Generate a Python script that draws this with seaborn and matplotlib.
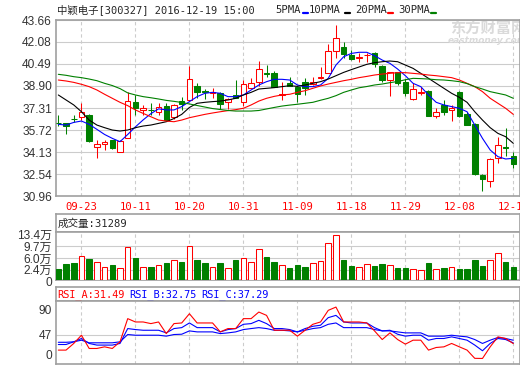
import numpy as np
import pandas as pd
import seaborn as sns
import matplotlib.pyplot as plt
from matplotlib.lines import Line2D

sns.set_style("white")
plt.rcParams['font.family'] = ['DejaVu Sans Mono', 'Noto Sans CJK SC']

# --- datos (60 sesiones, 2016-09-20 .. 2016-12-19) ---
open_ = [36.25, 36.21, 36.55, 36.68, 36.80, 34.52, 34.69, 35.00, 34.16, 35.17,
         37.72, 37.14, 37.20, 37.00, 37.48, 36.68, 37.82, 37.87, 38.90, 38.52,
         38.40, 38.41, 37.72, 38.25, 37.77, 38.77, 39.16, 39.80, 39.86, 38.28,
         39.14, 38.85, 39.16, 39.06, 39.48, 39.81, 41.42, 41.73, 41.13, 40.92,
         41.10, 41.26, 40.34, 39.33, 39.89, 39.21, 37.96, 38.42, 38.54, 36.75,
         37.53, 37.14, 38.49, 36.85, 36.18, 32.47, 32.06, 33.68, 34.48, 33.87]
high = [36.80, 36.25, 36.80, 37.65, 36.85, 35.00, 35.00, 35.02, 35.00, 38.44,
        38.25, 37.50, 37.65, 37.70, 37.70, 37.60, 38.13, 40.36, 39.09, 38.70,
        38.75, 38.45, 38.00, 39.33, 39.33, 39.50, 40.70, 40.41, 39.97, 39.20,
        39.57, 38.90, 39.45, 39.57, 40.29, 41.91, 43.30, 42.05, 41.50, 41.26,
        41.26, 41.35, 40.40, 39.90, 39.90, 39.40, 39.09, 38.80, 38.60, 37.33,
        37.89, 37.50, 38.55, 37.00, 36.20, 32.55, 33.72, 35.24, 35.84, 34.16]
low = [36.00, 35.41, 36.30, 36.44, 34.85, 33.72, 34.28, 34.35, 34.10, 35.17,
       36.80, 36.80, 36.80, 36.80, 36.40, 36.50, 37.17, 37.87, 38.01, 37.98,
       38.00, 37.24, 37.24, 38.00, 37.48, 38.75, 38.92, 39.57, 38.85, 37.89,
       38.90, 37.72, 38.25, 38.97, 39.40, 39.81, 40.94, 40.94, 40.80, 40.65,
       40.65, 40.30, 39.20, 38.20, 39.00, 38.20, 37.90, 38.25, 36.70, 36.57,
       36.80, 36.37, 36.68, 36.05, 32.45, 31.32, 31.61, 33.36, 33.85, 33.00]
close = [36.20, 36.01, 36.50, 37.00, 34.93, 34.69, 34.88, 34.45, 34.93, 37.82,
         37.33, 37.29, 37.15, 37.36, 36.44, 37.53, 37.62, 39.40, 38.49, 38.47,
         38.47, 37.58, 37.94, 38.05, 39.02, 39.09, 40.12, 39.77, 38.85, 38.32,
         38.90, 38.30, 38.77, 39.21, 39.52, 41.42, 42.34, 41.18, 40.85, 40.96,
         41.15, 40.46, 39.33, 39.89, 39.09, 38.37, 38.68, 38.46, 36.75, 37.00,
         37.04, 37.29, 36.75, 36.08, 32.57, 32.19, 33.63, 34.64, 34.42, 33.25]

ma5 = [36.13, 36.08, 36.27, 36.37, 36.13, 35.77, 35.40, 35.12, 34.88, 35.40,
       35.95, 36.45, 36.90, 37.25, 37.17, 37.17, 37.41, 37.77, 38.13, 38.37,
       38.44, 38.37, 38.13, 38.13, 38.25, 38.61, 38.97, 39.21, 39.38, 39.38,
       39.33, 38.97, 38.85, 38.85, 38.97, 39.45, 40.41, 41.01, 41.25, 41.33,
       41.33, 41.09, 40.77, 40.53, 40.12, 39.64, 39.09, 38.85, 38.25, 37.72,
       37.53, 37.41, 37.29, 37.04, 36.08, 35.12, 34.28, 33.80, 33.63, 33.68]
ma10 = [38.25, 37.89, 37.53, 37.04, 36.44, 36.08, 35.89, 35.72, 35.65, 35.72,
        35.89, 36.01, 36.08, 36.20, 36.32, 36.55, 36.85, 37.35, 37.65, 37.72,
        37.77, 37.81, 37.89, 38.01, 38.25, 38.44, 38.68, 38.73, 38.78, 38.85,
        38.92, 38.87, 38.97, 39.09, 39.21, 39.40, 39.64, 39.88, 40.08, 40.27,
        40.46, 40.58, 40.65, 40.70, 40.65, 40.41, 40.17, 39.81, 39.45, 39.09,
        38.73, 38.37, 38.08, 37.72, 37.04, 36.44, 35.89, 35.48, 35.24, 34.76]
ma20 = [39.33, 39.26, 39.16, 39.02, 38.85, 38.61, 38.30, 38.01, 37.72, 37.48,
        37.17, 36.92, 36.68, 36.44, 36.37, 36.32, 36.44, 36.61, 36.73, 36.85,
        36.95, 37.04, 37.12, 37.19, 37.29, 37.53, 37.81, 38.01, 38.15, 38.25,
        38.30, 38.44, 38.56, 38.73, 38.90, 39.04, 39.16, 39.28, 39.38, 39.50,
        39.59, 39.69, 39.76, 39.81, 39.86, 39.86, 39.81, 39.76, 39.69, 39.64,
        39.57, 39.50, 39.33, 39.09, 38.85, 38.49, 38.01, 37.65, 37.29, 36.85]
ma30 = [39.74, 39.67, 39.57, 39.50, 39.40, 39.28, 39.09, 38.93, 38.71, 38.40,
        38.25, 38.13, 38.05, 37.96, 37.86, 37.79, 37.71, 37.60, 37.49, 37.38,
        37.27, 37.20, 37.13, 37.09, 37.09, 37.09, 37.13, 37.24, 37.35, 37.45,
        37.52, 37.58, 37.65, 37.72, 37.87, 38.01, 38.20, 38.44, 38.61, 38.77,
        38.86, 38.97, 39.04, 39.14, 39.22, 39.35, 39.45, 39.43, 39.40, 39.35,
        39.33, 39.28, 39.21, 39.07, 38.85, 38.68, 38.49, 38.37, 38.25, 38.01]

# volumen en 万 (10k)
vol = [2.60, 4.13, 4.43, 6.57, 5.66, 4.74, 3.21, 3.82, 2.91, 9.63,
       5.96, 3.21, 3.21, 3.82, 4.43, 5.35, 4.74, 9.94, 5.35, 4.43,
       3.21, 4.43, 2.91, 5.35, 6.18, 4.74, 9.02, 6.36, 4.74, 3.82,
       2.91, 3.82, 3.21, 4.43, 5.05, 10.86, 13.40, 5.35, 3.52, 3.21,
       4.13, 3.52, 4.13, 3.82, 2.91, 2.91, 2.60, 2.29, 4.43, 2.60,
       2.91, 3.21, 2.60, 2.60, 5.35, 3.52, 5.35, 7.49, 4.74, 3.13]

rsi_a = [20.4, 20.4, 31.8, 45.9, 23.2, 23.2, 26.0, 23.2, 34.6, 74.3,
         68.6, 68.6, 65.8, 68.6, 48.7, 65.8, 66.9, 82.7, 66.9, 66.9,
         66.9, 51.6, 57.3, 57.3, 74.3, 74.3, 85.6, 79.9, 54.4, 54.4,
         54.4, 44.3, 54.4, 64.6, 68.6, 88.5, 94.1, 68.6, 68.6, 68.6,
         66.9, 53.3, 38.5, 49.9, 38.5, 30.6, 37.4, 37.4, 20.4, 24.9,
         26.0, 31.8, 26.0, 20.4, 6.3, 6.1, 26.0, 43.1, 40.3, 31.49]
rsi_b = [30.0, 30.0, 34.6, 40.3, 31.8, 29.0, 29.0, 29.0, 31.8, 57.3,
         55.6, 54.4, 54.4, 54.4, 49.9, 57.3, 58.9, 66.9, 58.9, 58.9,
         58.9, 51.6, 55.6, 57.3, 64.6, 65.8, 71.4, 65.8, 57.3, 57.3,
         55.6, 51.6, 57.3, 61.2, 63.0, 76.0, 79.9, 68.6, 66.9, 66.9,
         66.9, 58.9, 53.3, 54.4, 47.6, 44.3, 45.9, 45.9, 37.4, 40.3,
         40.3, 43.1, 40.3, 37.4, 29.0, 19.3, 31.8, 40.3, 38.5, 32.75]
rsi_c = [33.8, 33.8, 34.6, 37.4, 32.9, 32.9, 32.9, 32.9, 34.6, 47.1,
         45.9, 45.9, 45.9, 45.9, 44.3, 47.1, 47.6, 53.3, 51.6, 51.6,
         51.6, 48.7, 49.9, 51.6, 55.6, 57.3, 58.9, 57.3, 54.4, 54.4,
         53.3, 51.6, 54.4, 57.3, 58.9, 64.6, 66.9, 58.9, 58.9, 58.9,
         58.9, 55.6, 53.3, 53.3, 51.6, 49.9, 49.9, 49.9, 44.3, 44.3,
         44.3, 45.9, 44.3, 43.1, 38.5, 31.8, 37.4, 42.0, 40.3, 37.29]

date_idx = [3, 10, 17, 24, 31, 38, 45, 52, 59]
date_lbl = ['09-23', '10-11', '10-20', '10-31', '11-09', '11-18', '11-29', '12-08', '12-19']
price_ticks = [30.96, 32.54, 34.13, 35.72, 37.31, 38.90, 40.49, 42.08, 43.66]
vol_ticks = [0, 2.4, 6.0, 9.7, 13.4]
vol_lbl = ['0', '2.4万', '6.0万', '9.7万', '13.4万']
rsi_ticks = [0, 47, 90]

df = pd.DataFrame({'idx': np.arange(60), 'open': open_, 'high': high, 'low': low,
                   'close': close, 'ma5': ma5, 'ma10': ma10, 'ma20': ma20,
                   'ma30': ma30, 'vol': vol, 'rsi_a': rsi_a, 'rsi_b': rsi_b,
                   'rsi_c': rsi_c})

RED, GREEN, BLUE = '#ff0000', '#008000', '#0000ff'
FRAME, GRID = '#a0a0a0', '#cccccc'
up = df['close'] >= df['open']
edge = np.where(up, RED, GREEN)
face = np.where(up, 'white', GREEN)

W, H = 520, 365
fig = plt.figure(figsize=(5.2, 3.65), dpi=100)


def box(top, bottom, left=56, right=519.5):
    return [left / W, 1 - bottom / H, (right - left) / W, (bottom - top) / H]


ax_k = fig.add_axes(box(20, 196))
ax_vh = fig.add_axes(box(214.3, 231.7))
ax_v = fig.add_axes(box(231.7, 280))
ax_rh = fig.add_axes(box(286.7, 301.3))
ax_r = fig.add_axes(box(301.3, 364))

num_font = ['Liberation Sans', 'Noto Sans CJK SC']
for ax in (ax_k, ax_vh, ax_v, ax_rh, ax_r):
    ax.set_facecolor('white')
    for s in ax.spines.values():
        s.set_color(FRAME)
        s.set_linewidth(1.2)
    ax.tick_params(length=0, pad=3)
    ax.set_xlim(-0.3, 59.8)

for ax in (ax_vh, ax_rh):
    ax.set_xticks([])
    ax.set_yticks([])

# rejilla vertical discontinua
for ax in (ax_k, ax_v, ax_r):
    ax.set_xticks(date_idx)
    ax.xaxis.grid(True, color=GRID, lw=0.8, ls=(0, (3, 2.5)))
    ax.set_axisbelow(True)

# ---- velas ----
ax_k.vlines(df['idx'], df['low'], df['high'], colors=edge, lw=0.75, zorder=2)
body_lo = np.minimum(df['open'], df['close'])
body_h = np.maximum((df['close'] - df['open']).abs(), 0.03)
ax_k.bar(df['idx'], body_h, bottom=body_lo, width=0.72, color=face,
         edgecolor=edge, linewidth=0.75, zorder=3)
for col, c in [('ma5', BLUE), ('ma10', 'black'), ('ma20', RED), ('ma30', GREEN)]:
    sns.lineplot(data=df, x='idx', y=col, ax=ax_k, color=c, lw=0.8, zorder=4)
ax_k.set_ylim(30.96, 43.66)
ax_k.set_yticks(price_ticks)
ax_k.set_yticklabels([f'{t:.2f}' for t in price_ticks], fontsize=8.6,
                     family=num_font, color='#333333')
ax_k.yaxis.grid(True, color=GRID, lw=0.8)
ax_k.set_xticklabels(date_lbl, fontsize=7.6, color=RED)
ax_k.tick_params(axis='x', pad=4)
ax_k.set_xlabel('')
ax_k.set_ylabel('')
ax_k.text(0.85, 0.955, '东方财富网', transform=ax_k.transAxes, fontsize=11,
          fontweight='bold', color='#dadada', family='Noto Sans CJK SC',
          va='center', clip_on=True, zorder=1)
ax_k.text(0.845, 0.885, 'eastmoney.com', transform=ax_k.transAxes, fontsize=6.5,
          fontweight='bold', style='italic', color='#dadada', family='DejaVu Sans',
          va='center', clip_on=True, zorder=1)

# ---- titulo y leyenda ----
fig.text(57 / W, 1 - 10 / H, '中颖电子[300327] 2016-12-19 15:00', fontsize=7.5,
         va='center', ha='left')
legend = [(275, '5PMA', 303, BLUE), (309, '10PMA', 345, 'black'),
          (355, '20PMA', 388, RED), (398, '30PMA', 431, GREEN)]
for tx, name, dx, c in legend:
    fig.text(tx / W, 1 - 10 / H, name, fontsize=7.6, va='center', ha='left')
    fig.add_artist(Line2D([dx / W, (dx + 5) / W], [1 - 12.5 / H, 1 - 12.5 / H],
                          color=c, lw=1.6, transform=fig.transFigure))

# ---- volumen ----
vfloor = -0.9
ax_v.bar(df['idx'], df['vol'] - vfloor, bottom=vfloor, width=0.72, color=face,
         edgecolor=edge, linewidth=0.75, zorder=3)
ax_v.set_ylim(vfloor, 14.35)
ax_v.set_yticks(vol_ticks)
ax_v.set_yticklabels(vol_lbl, fontsize=8.6, family=num_font, color='#333333')
ax_v.get_yticklabels()[0].set_va('top')
for t in vol_ticks[1:4]:
    ax_v.axhline(t, color=GRID, lw=0.8, zorder=0)
ax_v.set_xticklabels([])
ax_vh.text(0.003, 0.45, '成交量:31289', transform=ax_vh.transAxes, fontsize=7.6,
           va='center', ha='left')

# ---- RSI ----
for col, c in [('rsi_c', BLUE), ('rsi_b', BLUE), ('rsi_a', RED)]:
    sns.lineplot(data=df, x='idx', y=col, ax=ax_r, color=c, lw=0.8, zorder=3)
ax_r.set_ylim(-3.4, 104)
ax_r.set_yticks(rsi_ticks)
ax_r.set_yticklabels(['0', '47', '90'], fontsize=8.6, family=num_font,
                     color='#333333')
ax_r.get_yticklabels()[0].set_va('bottom')
ax_r.axhline(47, color=GRID, lw=0.8, zorder=0)
ax_r.set_xticklabels([])
ax_r.set_xlabel('')
ax_r.set_ylabel('')
for tx, s, c in [(57, 'RSI_A:31.49', RED), (129, 'RSI_B:32.75', BLUE),
                 (201, 'RSI_C:37.29', BLUE)]:
    ax_rh.text((tx - 56) / 463.5, 0.45, s, transform=ax_rh.transAxes,
               fontsize=7.4, color=c, va='center', ha='left')

fig.savefig('out.png', dpi=100)
